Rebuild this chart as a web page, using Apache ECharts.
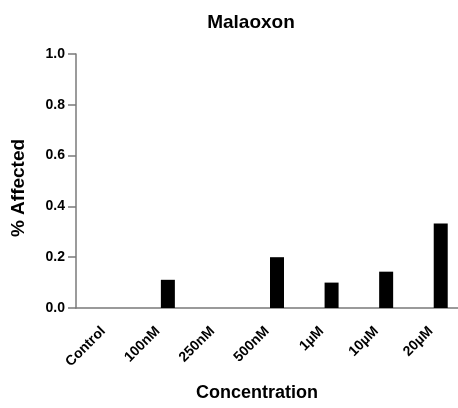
<!DOCTYPE html>
<html lang="en">
<head>
    <meta charset="UTF-8">
    <title>Malaoxon</title>
    <script src="https://cdn.jsdelivr.net/npm/echarts@6/dist/echarts.min.js"></script>
    <style>
        body { margin: 0; background: #fff; }
    </style>
</head>
<body>
<div id="main" style="width: 458px;height:408px;"></div>
<script>
    var categories = ['Control', '100nM', '250nM', '500nM', '1\u00b5M', '10\u00b5M', '20\u00b5M'];
    var affected = [0, 0.111, 0, 0.2, 0.1, 0.143, 0.333];
    var yTicks = [0, 0.2, 0.4, 0.6, 0.8, 1.0];

    var font = 'Liberation Sans, Arial, sans-serif';
    var axisColor = '#7a7a7a';

    var myChart = echarts.init(document.getElementById('main'));
    var option = {
        backgroundColor: '#fff',
        animation: false,
        title: {
            text: 'Malaoxon',
            left: 246,
            top: 8,
            textAlign: 'center',
            textStyle: { fontFamily: font, fontSize: 19, fontWeight: 'bold', color: '#000' }
        },
        grid: { left: 76, top: 54, width: 383, height: 254, containLabel: false },
        xAxis: {
            type: 'category',
            data: categories,
            name: 'Concentration',
            nameLocation: 'middle',
            nameGap: 76,
            nameTextStyle: { fontFamily: font, fontSize: 18, fontWeight: 'bold', color: '#000', padding: [0, 20, 0, 0] },
            axisLine: { lineStyle: { color: axisColor, width: 1.5 } },
            axisTick: { alignWithLabel: true, length: 8, lineStyle: { color: axisColor, width: 1.5 } },
            axisLabel: {
                rotate: 45,
                margin: 21,
                fontFamily: font, fontSize: 14, fontWeight: 'bold', color: '#000'
            },
            splitLine: { show: false }
        },
        yAxis: {
            type: 'value',
            min: yTicks[0],
            max: yTicks[yTicks.length - 1],
            interval: 0.2,
            name: '% Affected',
            nameLocation: 'middle',
            nameGap: 48,
            nameTextStyle: { fontFamily: font, fontSize: 19, fontWeight: 'bold', color: '#000', padding: [0, 14, 0, 0] },
            axisLine: { show: true, lineStyle: { color: axisColor, width: 1.5 } },
            axisTick: { show: true, length: 8, lineStyle: { color: axisColor, width: 1.5 } },
            axisLabel: {
                margin: 11,
                fontFamily: font, fontSize: 14, fontWeight: 'bold', color: '#000',
                formatter: function (v) { return v.toFixed(1); }
            },
            splitLine: { show: false }
        },
        series: [
            {
                // empty slot on the left of each group, like the original layout
                type: 'bar',
                data: categories.map(function () { return '-'; }),
                barWidth: 14,
                barGap: '43%',
                silent: true
            },
            {
                name: 'Malaoxon',
                type: 'bar',
                data: affected,
                barWidth: 14,
                barGap: '43%',
                itemStyle: { color: '#000' }
            }
        ]
    };
    myChart.setOption(option);
</script>
</body>
</html>
